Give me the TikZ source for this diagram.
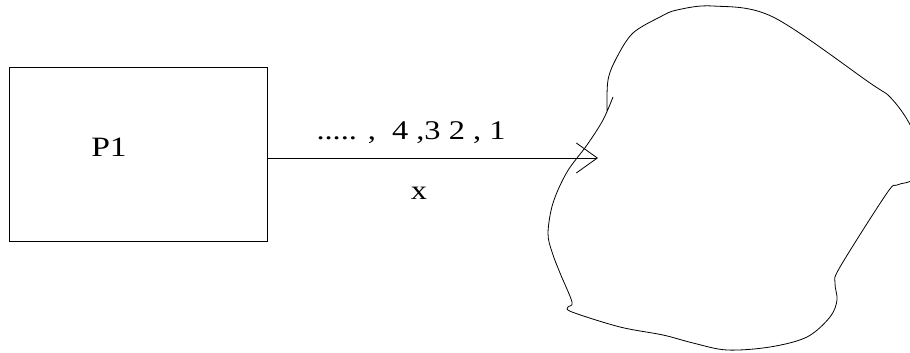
\documentclass[tikz,border=0pt]{standalone}
\usepackage{fontspec}
\usepackage{graphicx}
\setmainfont{Liberation Serif}
\usetikzlibrary{arrows.meta, positioning}

\newcommand{\widetxt}[1]{\scalebox{1.2}[1]{#1}}

\begin{document}
\begin{tikzpicture}[x=1pt, y=-1pt, line width=0.8pt,
  procbox/.style={rectangle, draw, minimum width=258pt, minimum height=174pt, inner sep=0pt},
  proclbl/.style={font=\fontsize{28}{30}\selectfont, inner sep=0pt},
  seqlbl/.style={font=\fontsize{27}{30}\selectfont, inner sep=0pt},
  flowarrow/.style={-{Straight Barb[length=21pt, width=30pt, line width=0.8pt]}},
  blobline/.style={line join=round}
]
\clip (0,0) rectangle (910,353);

% Process box
\node[procbox] (p1) at (138,154) {};
\node[proclbl] (p1lbl) at (109,147) {\widetxt{P1}};

% Sequence arrow into the set
\coordinate (tip) at (598,158);
\draw[flowarrow] (p1.east |- tip) -- (tip);
\node[seqlbl] (seq) at (411,133) {\widetxt{..... , \ 4 ,3 2 , 1}};
\node[seqlbl] (xlbl) at (419,193) {\widetxt{x}};

% Freehand set
\draw[blobline] plot[smooth, tension=0.55] coordinates {
  (613,97) (603,120) (587,145) (567,172) (553,203) (548,233) (552,252)
  (560,273) (572,302) (568,307) (572,312) (620,327) (663,335) (693,343)
  (727,350) (770,347) (807,337) (830,317) (837,300) (835,283) (840,267)
  (887,193) (897,185) (915,178) (920,150) (908,121) (890,97) (870,83)
  (773,17) (713,6) (677,10) (660,17) (633,33) (617,57) (608,80) (607,112)};
\end{tikzpicture}
\end{document}
